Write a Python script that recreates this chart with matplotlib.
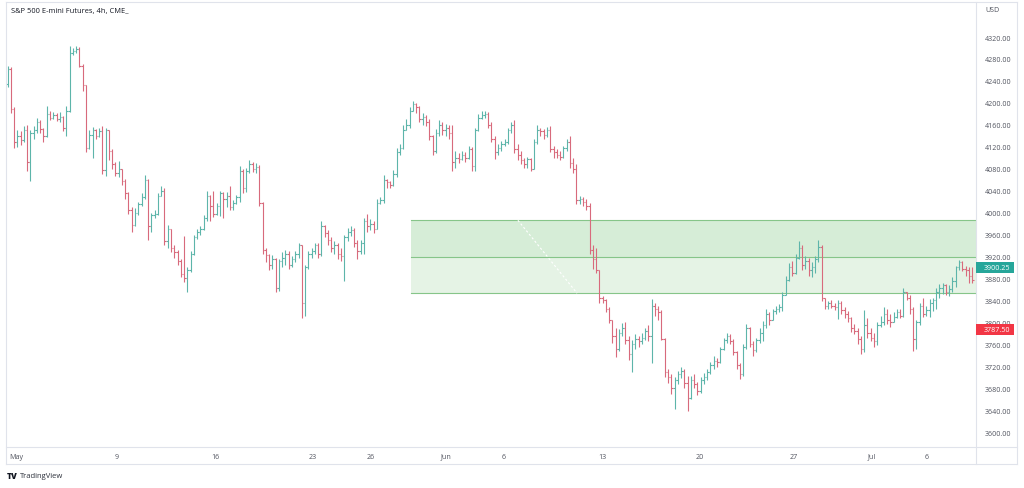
import numpy as np
import matplotlib
matplotlib.use("Agg")
import matplotlib.pyplot as plt
from matplotlib.lines import Line2D
from matplotlib.patches import Rectangle

# --- data: 4h bars of ES futures ---
first_open = 4235
closes = [
    4262, 4188, 4128, 4140, 4132, 4150, 4092, 4145, 4150, 4165,
    4152, 4140, 4180, 4172, 4178, 4170, 4175, 4155, 4185, 4290,
    4295, 4298, 4268, 4232, 4118, 4142, 4150, 4140, 4148, 4078,
    4150, 4112, 4088, 4072, 4080, 4058, 4035, 4005, 3978, 4000,
    4015, 4028, 4060, 3975, 3995, 3998, 4030, 4040, 3948, 3970,
    3935, 3928, 3912, 3888, 3880, 3895, 3925, 3955, 3965, 3970,
    3990, 4030, 4012, 3998, 4012, 4035, 4025, 4030, 4010, 4018,
    4028, 4075, 4045, 4075, 4088, 4080, 4083, 4018, 3932, 3922,
    3905, 3915, 3862, 3912, 3918, 3925, 3905, 3915, 3925, 3940,
    3835, 3900, 3925, 3930, 3940, 3925, 3975, 3962, 3950, 3935,
    3940, 3925, 3920, 3955, 3965, 3968, 3945, 3930, 3945, 3985,
    3975, 3980, 3970, 4018, 4022, 4060, 4055, 4050, 4070, 4110,
    4118, 4150, 4160, 4185, 4198, 4192, 4170, 4175, 4165, 4140,
    4112, 4145, 4160, 4150, 4155, 4145, 4092, 4100, 4098, 4105,
    4100, 4115, 4085, 4150, 4172, 4178, 4180, 4160, 4135, 4110,
    4118, 4125, 4128, 4150, 4160, 4115, 4105, 4095, 4088, 4098,
    4080, 4128, 4150, 4148, 4142, 4150, 4115, 4110, 4105, 4102,
    4118, 4128, 4090, 4080, 4022, 4025, 4020, 4012, 3932, 3915,
    3895, 3845, 3840, 3825, 3805, 3775, 3752, 3780, 3790, 3768,
    3742, 3760, 3770, 3765, 3772, 3785, 3775, 3830, 3825, 3818,
    3770, 3710, 3700, 3680, 3695, 3705, 3712, 3690, 3662, 3695,
    3688, 3675, 3695, 3700, 3710, 3722, 3730, 3728, 3752, 3768,
    3775, 3765, 3745, 3722, 3705, 3755, 3790, 3760, 3750, 3768,
    3780, 3795, 3815, 3805, 3820, 3825, 3828, 3850, 3878, 3900,
    3890, 3918, 3935, 3905, 3912, 3895, 3900, 3915, 3938, 3845,
    3830, 3835, 3830, 3828, 3835, 3822, 3815, 3808, 3790, 3785,
    3770, 3752, 3795, 3780, 3772, 3765, 3795, 3800, 3815, 3805,
    3800, 3810, 3818, 3812, 3855, 3845, 3825, 3770, 3800, 3830,
    3815, 3822, 3835, 3840, 3855, 3862, 3868, 3855, 3860, 3875,
    3900, 3910, 3898, 3895, 3885, 3878,
]
highs = [
    4267, 4266, 4192, 4150, 4148, 4157, 4160, 4150, 4158, 4172,
    4168, 4155, 4195, 4186, 4183, 4182, 4183, 4176, 4195, 4303,
    4300, 4303, 4302, 4270, 4225, 4150, 4156, 4152, 4155, 4158,
    4155, 4150, 4115, 4092, 4094, 4080, 4062, 4038, 4010, 4008,
    4020, 4035, 4068, 4062, 4000, 4005, 4035, 4048, 4045, 3978,
    3960, 3940, 3932, 3915, 3958, 3900, 3930, 3960, 3970, 3975,
    3995, 4040, 4032, 4040, 4018, 4040, 4038, 4038, 4048, 4022,
    4032, 4085, 4080, 4082, 4095, 4092, 4090, 4086, 4020, 3935,
    3925, 3922, 3918, 3915, 3928, 3932, 3930, 3920, 3930, 3945,
    3940, 3905, 3930, 3935, 3945, 3945, 3985, 3978, 3968, 3955,
    3948, 3945, 3935, 3960, 3972, 3975, 3972, 3950, 3950, 3990,
    3998, 3988, 3985, 4025, 4028, 4068, 4062, 4058, 4078, 4118,
    4125, 4160, 4170, 4192, 4203, 4200, 4195, 4182, 4178, 4170,
    4142, 4152, 4168, 4165, 4162, 4160, 4160, 4112, 4108, 4112,
    4110, 4122, 4120, 4155, 4180, 4185, 4186, 4184, 4165, 4140,
    4125, 4130, 4135, 4155, 4165, 4168, 4125, 4112, 4100, 4102,
    4100, 4135, 4160, 4155, 4152, 4156, 4158, 4122, 4115, 4112,
    4122, 4135, 4140, 4100, 4088, 4030, 4028, 4025, 4018, 3940,
    3935, 3880, 3848, 3842, 3828, 3805, 3790, 3788, 3798, 3800,
    3775, 3768, 3778, 3775, 3780, 3790, 3795, 3842, 3835, 3830,
    3822, 3772, 3715, 3705, 3700, 3712, 3718, 3715, 3702, 3702,
    3705, 3692, 3700, 3708, 3715, 3728, 3738, 3735, 3755, 3772,
    3780, 3778, 3770, 3748, 3725, 3760, 3797, 3792, 3765, 3772,
    3790, 3802, 3824, 3818, 3824, 3830, 3833, 3855, 3885, 3908,
    3912, 3925, 3948, 3940, 3920, 3918, 3910, 3920, 3950, 3940,
    3845, 3838, 3840, 3836, 3840, 3838, 3828, 3820, 3810, 3797,
    3790, 3775, 3822, 3808, 3790, 3780, 3800, 3812, 3828, 3825,
    3815, 3818, 3824, 3824, 3862, 3855, 3850, 3828, 3805, 3835,
    3845, 3830, 3842, 3845, 3862, 3870, 3872, 3870, 3868, 3882,
    3903, 3913, 3912, 3902, 3900, 3900,
]
lows = [
    4228, 4182, 4118, 4120, 4124, 4128, 4075, 4058, 4135, 4145,
    4145, 4128, 4138, 4168, 4170, 4166, 4165, 4148, 4140, 4183,
    4287, 4290, 4265, 4222, 4110, 4115, 4100, 4135, 4138, 4070,
    4066, 4095, 4080, 4066, 4065, 4050, 4025, 3998, 3965, 3975,
    3995, 4012, 4025, 3950, 3965, 3990, 3995, 4030, 3940, 3935,
    3928, 3918, 3905, 3882, 3873, 3855, 3892, 3922, 3952, 3960,
    3968, 3985, 3985, 3992, 3995, 3993, 3990, 4010, 4005, 4005,
    4015, 4020, 4035, 4038, 4072, 4074, 4072, 4012, 3925, 3910,
    3895, 3898, 3855, 3857, 3900, 3905, 3898, 3900, 3910, 3918,
    3808, 3812, 3898, 3918, 3925, 3918, 3920, 3955, 3940, 3928,
    3925, 3915, 3912, 3876, 3948, 3958, 3938, 3915, 3925, 3925,
    3965, 3968, 3962, 3978, 4015, 4018, 4045, 4045, 4048, 4065,
    4105, 4115, 4150, 4155, 4185, 4182, 4165, 4160, 4158, 4132,
    4105, 4108, 4140, 4142, 4140, 4135, 4075, 4082, 4090, 4095,
    4092, 4098, 4076, 4075, 4148, 4170, 4172, 4155, 4128, 4098,
    4105, 4112, 4122, 4125, 4145, 4108, 4095, 4088, 4082, 4082,
    4075, 4092, 4125, 4140, 4135, 4138, 4110, 4100, 4100, 4095,
    4100, 4112, 4082, 4072, 4015, 4015, 4012, 4005, 3925, 3897,
    3890, 3836, 3835, 3818, 3798, 3762, 3737, 3748, 3775, 3760,
    3732, 3710, 3752, 3755, 3760, 3768, 3765, 3725, 3812, 3805,
    3768, 3700, 3690, 3670, 3642, 3688, 3698, 3680, 3638, 3660,
    3680, 3668, 3672, 3688, 3695, 3705, 3715, 3718, 3725, 3750,
    3762, 3760, 3740, 3715, 3697, 3702, 3752, 3755, 3738, 3745,
    3762, 3765, 3790, 3795, 3808, 3815, 3818, 3820, 3850, 3876,
    3885, 3888, 3915, 3895, 3898, 3885, 3883, 3890, 3910, 3838,
    3825, 3824, 3826, 3822, 3806, 3815, 3808, 3800, 3782, 3778,
    3760, 3742, 3745, 3772, 3765, 3755, 3758, 3792, 3795, 3796,
    3792, 3800, 3808, 3808, 3810, 3840, 3815, 3748, 3752, 3795,
    3810, 3812, 3810, 3820, 3825, 3845, 3852, 3850, 3848, 3855,
    3865, 3895, 3893, 3885, 3872, 3872,
]

# date labels on the time axis (bar index, text)
date_pos = [2.7, 33.4, 63.5, 93.2, 111, 134.1, 151.8, 181.8, 211.7, 240.4, 264.4, 281.2]
date_txt = ["May", "9", "16", "23", "26", "Jun", "6", "13", "20", "27", "Jul", "6"]
price_ticks = list(range(3600, 4321, 40))

# green zone drawn on the chart
zone_top, zone_mid, zone_bot = 3986, 3919.5, 3853
zone_start = 123.3
last_price, other_price = 3900.25, 3787.50

UP, DOWN = "#5db5aa", "#d86a7c"
LBL_UP, LBL_DOWN = "#26a69a", "#f23645"
TXT = "#50535e"
FRAME = "#e0e3eb"

W, H = 1024, 489
plt.rcParams["font.family"] = ["Open Sans", "DejaVu Sans"]
fig = plt.figure(figsize=(W / 100, H / 100), dpi=100)
fig.patch.set_facecolor("white")


def fx(x):
    return x / W


def fy(y):
    return 1 - y / H


ax = fig.add_axes([fx(6), fy(448), (976 - 6) / W, (448 - 3) / H])
ax.set_facecolor("white")

closes = np.array(closes, float)
opens = np.concatenate([[first_open], closes[:-1]])
hi = np.maximum(np.array(highs, float), np.maximum(opens, closes))
lo = np.minimum(np.array(lows, float), np.minimum(opens, closes))
x = np.arange(len(closes))
col = np.where(closes >= opens, UP, DOWN)

# zone
xr = len(closes) + 5
ax.fill_between([zone_start, xr], zone_mid, zone_top, color="#d6edd7", lw=0, zorder=1)
ax.fill_between([zone_start, xr], zone_bot, zone_mid, color="#e5f3e5", lw=0, zorder=1)
for lvl in (zone_top, zone_mid, zone_bot):
    ax.plot([zone_start, xr], [lvl, lvl], color="#86c589", lw=0.8, zorder=2)
ax.plot([156.1, 174.2], [zone_top, zone_bot], color="white", lw=0.8,
        ls=(0, (2, 2)), zorder=2)

# OHLC bars
ax.vlines(x, lo, hi, colors=col, lw=0.8, zorder=3)
ax.hlines(opens, x - 0.45, x, colors=col, lw=0.8, zorder=3)
ax.hlines(closes, x, x + 0.45, colors=col, lw=0.8, zorder=3)

ax.set_xlim(-0.46, 296.2)
ax.set_ylim(3572.7, 4383.8)
for s in ax.spines.values():
    s.set_visible(False)

ax.yaxis.tick_right()
ax.set_yticks(price_ticks)
ax.set_yticklabels([f"{p:.2f}" for p in price_ticks])
ax.tick_params(axis="y", length=0, pad=6.5, labelsize=5.1, labelcolor=TXT)
ax.set_xticks(date_pos)
ax.set_xticklabels(date_txt)
ax.tick_params(axis="x", length=0, pad=4, labelsize=5.1, labelcolor=TXT)

# frame lines
for (x0, y0, x1, y1) in [(6, 3, 1017, 3), (6, 465, 1017, 465), (6, 3, 6, 465),
                         (1017, 3, 1017, 465), (976, 3, 976, 465), (6, 448, 1017, 448)]:
    fig.add_artist(Line2D([fx(x0), fx(x1)], [fy(y0), fy(y1)], color=FRAME, lw=0.8))

# texts
fig.text(fx(11), fy(12), "S&P 500 E-mini Futures, 4h, CME_", fontsize=5.4,
         color="#131722", va="center", ha="left")
fig.text(fx(985), fy(11), "USD", fontsize=5.1, color=TXT, va="center", ha="left")

# price labels on the axis
for price, c in ((last_price, LBL_UP), (other_price, LBL_DOWN)):
    yc = 38 + (4320 - price) / 1.8228
    fig.add_artist(Rectangle((fx(976), fy(yc + 5.5)), 38 / W, 11 / H,
                             transform=fig.transFigure, color=c, lw=0, zorder=5))
    fig.text(fx(984), fy(yc), f"{price:.2f}", fontsize=5.1, color="white",
             va="center", ha="left", zorder=6)

# logo
fig.text(fx(7), fy(477), "TV", fontsize=6, fontweight="heavy", color="#131722",
         va="center", ha="left")
fig.text(fx(20), fy(477), "TradingView", fontsize=5.5, color="#2a2e39",
         va="center", ha="left")

fig.savefig("out.png", dpi=100, facecolor="white")
